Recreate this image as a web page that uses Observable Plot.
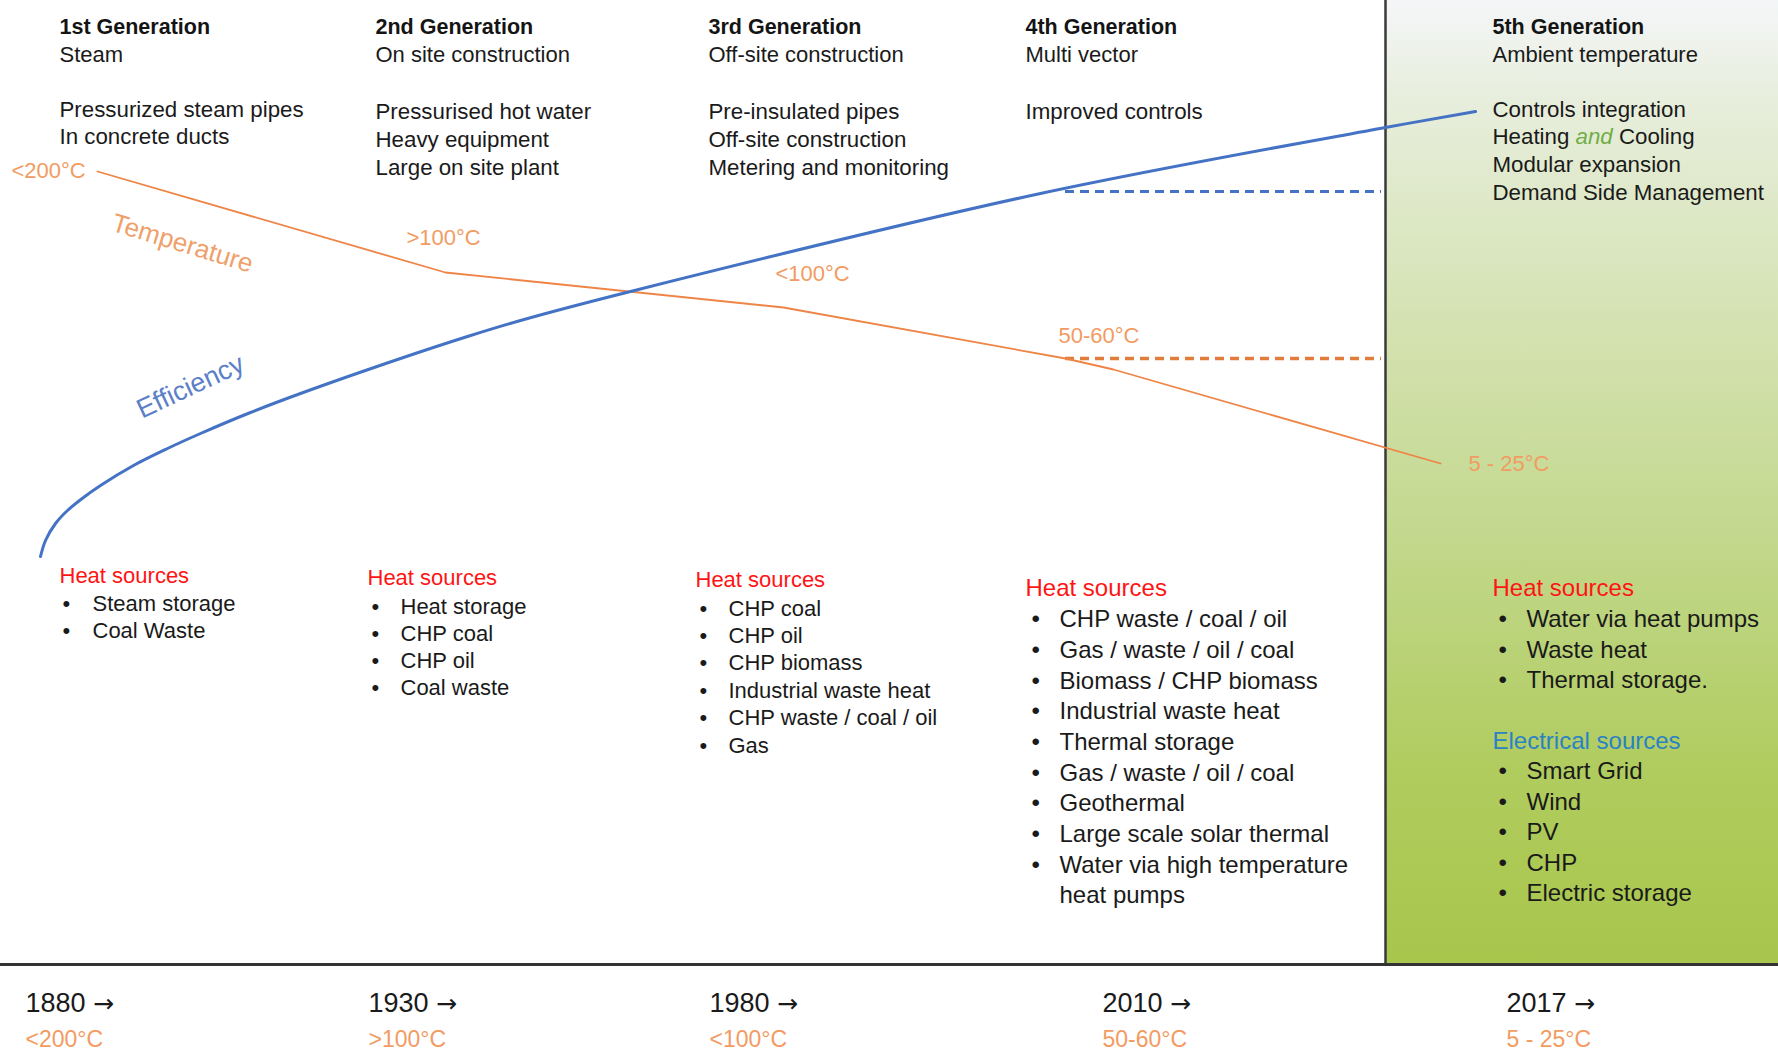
<!DOCTYPE html>
<html>
<head>
<meta charset="utf-8">
<script src="https://cdn.jsdelivr.net/npm/d3@7"></script>
<script src="https://cdn.jsdelivr.net/npm/@observablehq/plot@0.6"></script>
<style>
  html, body { margin: 0; padding: 0; background: #ffffff; }
  #chart svg { display: block; }
</style>
</head>
<body>
<div id="chart"></div>
<script>
// ---------------- Content ----------------
const generations = ["1st Generation", "2nd Generation", "3rd Generation", "4th Generation", "5th Generation"];
const generationThemes = ["Steam", "On site construction", "Off-site construction", "Multi vector", "Ambient temperature"];
const generationFeatures = [
  ["Pressurized steam pipes", "In concrete ducts"],
  ["Pressurised hot water", "Heavy equipment", "Large on site plant"],
  ["Pre-insulated pipes", "Off-site construction", "Metering and monitoring"],
  ["Improved controls"],
  ["Controls integration", "Heating and Cooling", "Modular expansion", "Demand Side Management"]
];
const heatSourcesTitle = "Heat sources";
const heatSources = [
  ["Steam storage", "Coal Waste"],
  ["Heat storage", "CHP coal", "CHP oil", "Coal waste"],
  ["CHP coal", "CHP oil", "CHP biomass", "Industrial waste heat", "CHP waste / coal / oil", "Gas"],
  ["CHP waste / coal / oil", "Gas / waste / oil / coal", "Biomass / CHP biomass", "Industrial waste heat",
   "Thermal storage", "Gas / waste / oil / coal", "Geothermal", "Large scale solar thermal",
   "Water via high temperature\nheat pumps"],
  ["Water via heat pumps", "Waste heat", "Thermal storage."]
];
const electricalSourcesTitle = "Electrical sources";
const electricalSources = ["Smart Grid", "Wind", "PV", "CHP", "Electric storage"];
const years = ["1880", "1930", "1980", "2010", "2017"];
const supplyTemperatures = ["<200°C", ">100°C", "<100°C", "50-60°C", "5 - 25°C"];

// ---------------- Schematic curves (layout units: x across, y down) ----------------
const temperatureX = [97, 445, 783, 1065, 1113, 1440];
const temperatureY = [171, 272, 307, 358, 369, 463];
const efficiencyX = [40, 45, 55, 67, 83, 100, 133, 167, 200, 250, 300, 400, 467, 520, 630, 1040, 1385, 1475];
const efficiencyY = [556, 540, 523, 510, 497, 485, 465, 448, 433, 412, 393, 358, 336, 320, 291, 193, 127, 111];
const plateauStartX = 1065;
const panelX = 1385;
const baselineY = 964;
const efficiencyPlateauY = 191;
const temperaturePlateauY = 358;

// label anchors along the temperature curve
const temperatureLabelX = [11, 406, 775, 1058, 1468];
const temperatureLabelY = [170, 237, 273, 335, 463];

// ---------------- Layout anchors ----------------
const headerX = [59, 375, 708, 1025, 1492];
const headerRowY = [27, 54];
const featureY0 = [109, 111, 111, 111, 109];
const featureStep = [27, 28, 28, 28, 27.7];
const sourcesX = [59, 367, 695, 1025, 1492];
const sourcesTitleY = [575, 577, 579, 588, 588];
const sourcesItemY0 = [603, 606, 608, 619, 619];
const sourcesStep = [27, 27.3, 27.4, 30.7, 30.5];
const bulletDX = [3, 4, 4, 6, 6];
const itemDX = [33, 33, 33, 34, 34];
const electricalTitleY = 741;
const electricalItemY0 = 771;
const electricalStep = 30.5;
const yearX = [25, 368, 709, 1102, 1506];
const yearRowY = [1003, 1039];

// ---------------- Build tables ----------------
const temperatureCurve = temperatureX.map((x, i) => ({x, y: temperatureY[i]}));
const efficiencyCurve = efficiencyX.map((x, i) => ({x, y: efficiencyY[i]}));
const temperatureLabels = supplyTemperatures.map((t, i) => ({x: temperatureLabelX[i], y: temperatureLabelY[i], text: t}));

const headerRows = generations.map((g, i) => ({x: headerX[i], y: headerRowY[0], text: g}));
const themeRows = generationThemes.map((g, i) => ({x: headerX[i], y: headerRowY[1], text: g}));
const featureRows = generationFeatures.flatMap((list, i) =>
  list.map((f, k) => ({x: headerX[i], y: featureY0[i] + k * featureStep[i], text: f, col: i})));

const sourceTitles = sourcesX.map((x, i) => ({x, y: sourcesTitleY[i], text: heatSourcesTitle, col: i}));
const sourceItems = [];
const sourceBullets = [];
heatSources.forEach((list, i) => {
  let row = 0;
  list.forEach(item => {
    item.split("\n").forEach((line, j) => {
      const y = sourcesItemY0[i] + row * sourcesStep[i];
      sourceItems.push({x: sourcesX[i] + itemDX[i], y, text: line, col: i});
      if (j === 0) sourceBullets.push({x: sourcesX[i] + bulletDX[i], y, col: i});
      row++;
    });
  });
});
const elecItems = electricalSources.map((s, k) => ({x: sourcesX[4] + itemDX[4], y: electricalItemY0 + k * electricalStep, text: s, col: 4}));
const elecBullets = electricalSources.map((s, k) => ({x: sourcesX[4] + bulletDX[4], y: electricalItemY0 + k * electricalStep, col: 4}));

const yearRows = years.map((yr, i) => ({x: yearX[i], y: yearRowY[0], text: yr + " \u2192"}));
const yearTempRows = supplyTemperatures.map((t, i) => ({x: yearX[i], y: yearRowY[1], text: t}));

const FONT = "'Liberation Sans', Arial, Helvetica, sans-serif";
const small = d => d.col >= 3 ? 24 : 22;

const chart = Plot.plot({
  width: 1778,
  height: 1051,
  margin: 0,
  style: {background: "#ffffff", fontFamily: FONT},
  x: {domain: [0, 1778], range: [0, 1778], axis: null},
  y: {domain: [0, 1051], range: [0, 1051], axis: null},
  marks: [
    // green 5th-generation panel
    Plot.rect([{x1: panelX, x2: 1778, y1: 0, y2: baselineY}], {x1: "x1", x2: "x2", y1: "y1", y2: "y2", fill: "url(#panelGrad)"}),
    Plot.ruleX([panelX], {y1: 0, y2: baselineY, stroke: "#3a3a3a", strokeWidth: 2.5}),
    Plot.ruleY([baselineY], {x1: 0, x2: 1778, stroke: "#333333", strokeWidth: 3}),

    // plateau dashed lines
    Plot.ruleY([efficiencyPlateauY], {x1: plateauStartX, x2: panelX - 4, stroke: "#4472c4", strokeWidth: 3, strokeDasharray: "9,6"}),
    Plot.ruleY([temperaturePlateauY], {x1: plateauStartX, x2: panelX - 4, stroke: "#e07d3c", strokeWidth: 3.5, strokeDasharray: "9,6"}),

    // curves
    Plot.line(temperatureCurve, {x: "x", y: "y", stroke: "#ee8445", strokeWidth: 1.8}),
    Plot.line(efficiencyCurve, {x: "x", y: "y", curve: "catmull-rom", stroke: "#4472c4", strokeWidth: 3}),

    // curve names
    Plot.text([{x: 182, y: 243, text: "Temperature"}], {x: "x", y: "y", text: "text", rotate: 17, fontSize: 26, fill: "#f0a06a", textAnchor: "middle", lineAnchor: "middle"}),
    Plot.text([{x: 190, y: 386, text: "Efficiency"}], {x: "x", y: "y", text: "text", rotate: -25, fontSize: 27, fill: "#5b80c8", textAnchor: "middle", lineAnchor: "middle"}),

    // temperature labels on chart
    Plot.text(temperatureLabels, {x: "x", y: "y", text: "text", fontSize: 22, fill: "#f29b62", textAnchor: "start", lineAnchor: "middle"}),

    // generation headers
    Plot.text(headerRows, {x: "x", y: "y", text: "text", fontSize: 21.5, fontWeight: "bold", fill: "#141414", textAnchor: "start", lineAnchor: "middle"}),
    Plot.text(themeRows, {x: "x", y: "y", text: "text", fontSize: 22, fill: "#1a1a1a", textAnchor: "start", lineAnchor: "middle"}),
    Plot.text(featureRows, {x: "x", y: "y", text: "text", fontSize: 22.3, fill: "#1a1a1a", textAnchor: "start", lineAnchor: "middle"}),

    // heat sources
    Plot.text(sourceTitles, {x: "x", y: "y", text: "text", fontSize: small, fill: "#ff1414", textAnchor: "start", lineAnchor: "middle"}),
    Plot.text(sourceBullets, {x: "x", y: "y", text: () => "\u2022", fontSize: small, fill: "#1a1a1a", textAnchor: "start", lineAnchor: "middle"}),
    Plot.text(sourceItems, {x: "x", y: "y", text: "text", fontSize: small, fill: "#1a1a1a", textAnchor: "start", lineAnchor: "middle"}),

    // electrical sources
    Plot.text([{x: sourcesX[4], y: electricalTitleY, text: electricalSourcesTitle}], {x: "x", y: "y", text: "text", fontSize: 24, fill: "#2a82c4", textAnchor: "start", lineAnchor: "middle"}),
    Plot.text(elecBullets, {x: "x", y: "y", text: () => "\u2022", fontSize: 24, fill: "#1a1a1a", textAnchor: "start", lineAnchor: "middle"}),
    Plot.text(elecItems, {x: "x", y: "y", text: "text", fontSize: 24, fill: "#1a1a1a", textAnchor: "start", lineAnchor: "middle"}),

    // timeline
    Plot.text(yearRows, {x: "x", y: "y", text: "text", fontSize: 27, fill: "#1a1a1a", textAnchor: "start", lineAnchor: "middle"}),
    Plot.text(yearTempRows, {x: "x", y: "y", text: "text", fontSize: 23, fill: "#f29b62", textAnchor: "start", lineAnchor: "middle"})
  ]
});

// gradient definition for the green panel
const svgSel = d3.select(chart);
const defs = svgSel.insert("defs", ":first-child");
const grad = defs.append("linearGradient").attr("id", "panelGrad").attr("x1", 0).attr("y1", 0).attr("x2", 0).attr("y2", 1);
[[0, "#f4f6f8"], [0.1, "#e8eedd"], [0.3, "#d7e4b8"], [0.55, "#c3d88e"], [0.8, "#b0cc5e"], [1, "#a8c64c"]]
  .forEach(([o, c]) => grad.append("stop").attr("offset", o).attr("stop-color", c));

svgSel.selectAll("text").each(function() {
  const t = d3.select(this);
  const s = this.textContent;
  // "Heating and Cooling" with the green italic "and"
  if (s === "Heating and Cooling") {
    t.text(null);
    t.append("tspan").text("Heating ");
    t.append("tspan").attr("fill", "#70ad47").attr("font-style", "italic").text("and");
    t.append("tspan").text(" Cooling");
  }
  // larger arrow glyph after the years
  if (s.endsWith("\u2192")) {
    t.text(null);
    t.append("tspan").text(s.slice(0, -1));
    t.append("tspan").attr("font-family", "'DejaVu Sans', sans-serif").attr("font-size", 25).text("\u2192");
  }
});

document.getElementById("chart").appendChild(chart);
</script>
</body>
</html>
